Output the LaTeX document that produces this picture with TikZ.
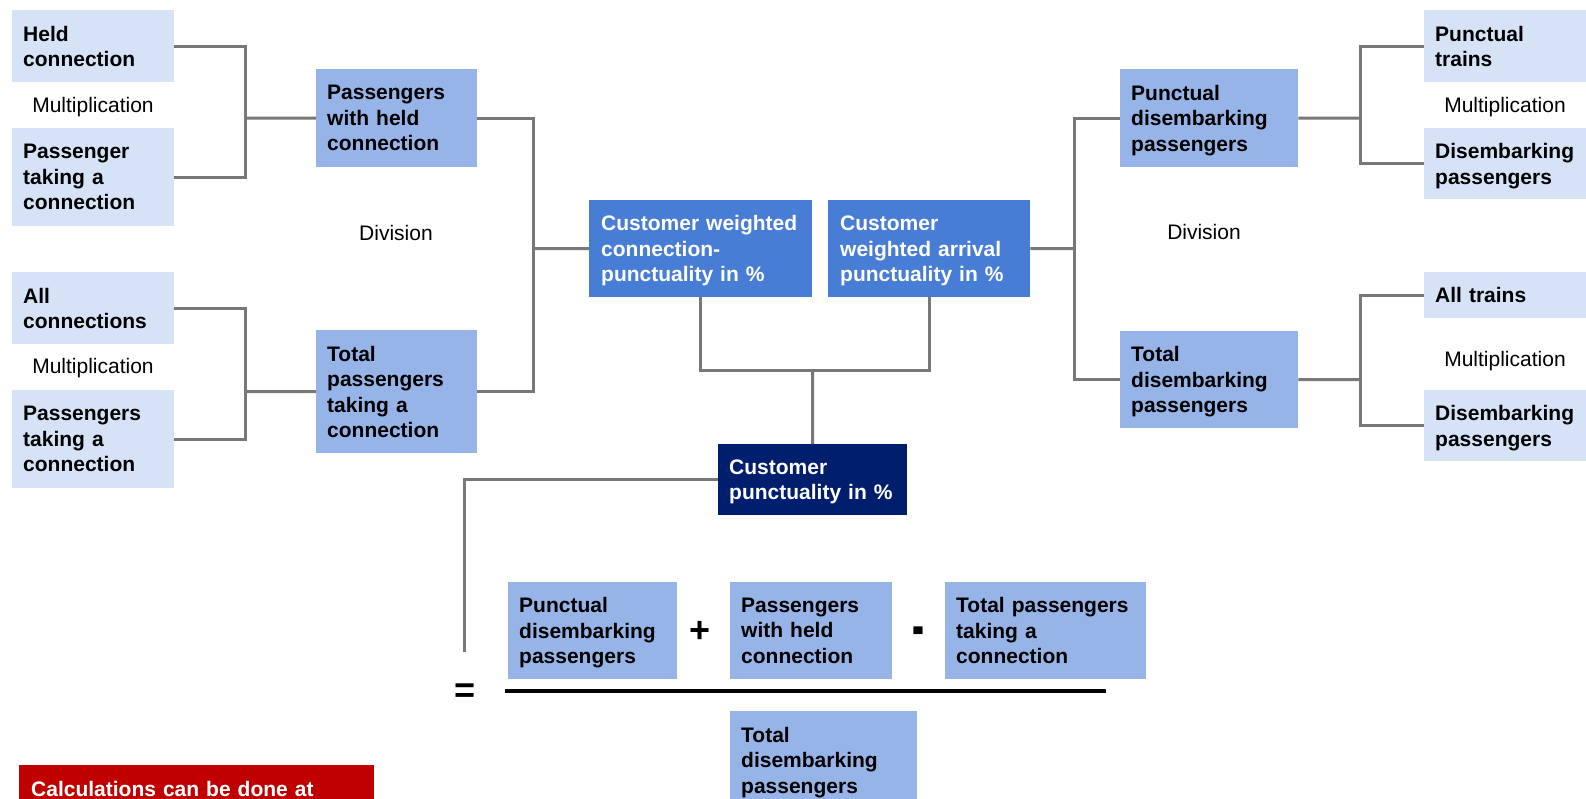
\documentclass[tikz,border=0pt]{standalone}
\usepackage{fontspec}
\setmainfont{Liberation Sans}
\definecolor{lightc}{RGB}{214,227,246}
\definecolor{midc}{RGB}{150,180,232}
\definecolor{strongc}{RGB}{72,125,213}
\definecolor{navyc}{RGB}{0,30,110}
\definecolor{redc}{RGB}{192,0,0}
\definecolor{linec}{RGB}{120,120,120}
\tikzset{
  box/.style={anchor=north west, inner xsep=11pt, inner ysep=0pt, align=left,
    font=\fontsize{21}{25.5}\selectfont\bfseries},
  one/.style={text depth=0pt},
  two/.style={text depth=25.5pt},
  three/.style={text depth=51pt},
  four/.style={text depth=76.5pt},
  lightbox/.style={box, fill=lightc},
  midbox/.style={box, fill=midc},
  strongbox/.style={box, fill=strongc, text=white, inner xsep=12pt},
  navybox/.style={box, fill=navyc, text=white},
  notebox/.style={box, fill=redc, text=white, inner xsep=12pt},
  opname/.style={font=\fontsize{21}{25}\selectfont, inner sep=0pt},
  opsign/.style={font=\fontsize{36}{36}\selectfont\bfseries, inner sep=0pt},
  conn/.style={draw=linec, line width=3pt},
}
\begin{document}
\begin{tikzpicture}[x=1pt,y=-1pt]
\useasboundingbox (0,0) rectangle (1586,798);
\clip (0,0) rectangle (1586,798);
\fill[white] (0,0) rectangle (1586,798);

% left input boxes
\node[lightbox, two, text width=140pt, minimum height=72pt] (held) at (12,10) {Held\\connection};
\node[lightbox, three, text width=140pt, minimum height=98pt] (ptc) at (12,128) {Passenger\\taking a\\connection};
\node[lightbox, two, text width=140pt, minimum height=72pt] (allc) at (12,272) {All\\connections};
\node[lightbox, three, text width=140pt, minimum height=98pt] (ptc2) at (12,390) {Passengers\\taking a\\connection};
\node[opname] (mul1) at (93,107) {Multiplication};
\node[opname] (mul2) at (93,368) {Multiplication};

% left intermediate boxes
\node[midbox, three, text width=139pt, minimum height=98pt] (pwh) at (316,69) {Passengers\\with held\\connection};
\node[midbox, four, text width=139pt, minimum height=123pt] (tpt) at (316,330) {Total\\passengers\\taking a\\connection};
\node[opname] (div1) at (396,233) {Division};

% central boxes
\node[strongbox, three, text width=199pt, minimum height=97pt] (cwc) at (589,200) {Customer weighted\\connection-\\punctuality in \%};
\node[strongbox, three, text width=178pt, minimum height=97pt] (cwa) at (828,200) {Customer\\weighted arrival\\punctuality in \%};
\node[navybox, two, text width=167pt, minimum height=71pt] (cp) at (718,444) {Customer\\punctuality in \%};

% right intermediate boxes
\node[midbox, three, text width=156pt, minimum height=98pt] (pdp) at (1120,69) {Punctual\\disembarking\\passengers};
\node[midbox, three, text width=156pt, minimum height=97pt] (tdp) at (1120,331) {Total\\disembarking\\passengers};
\node[opname] (div2) at (1204,232) {Division};

% right input boxes
\node[lightbox, two, text width=150pt, minimum height=72pt] (pt) at (1424,10) {Punctual\\trains};
\node[lightbox, two, text width=150pt, minimum height=71pt] (dp1) at (1424,128) {Disembarking\\passengers};
\node[lightbox, one, text width=150pt, minimum height=46pt] (at) at (1424,272) {All trains};
\node[lightbox, two, text width=150pt, minimum height=71pt] (dp2) at (1424,390) {Disembarking\\passengers};
\node[opname] (mul3) at (1505,107) {Multiplication};
\node[opname] (mul4) at (1505,361) {Multiplication};

% formula
\node[midbox, three, text width=147pt, minimum height=97pt] (f1) at (508,582) {Punctual\\disembarking\\passengers};
\node[midbox, three, text width=140pt, minimum height=97pt] (f2) at (730,582) {Passengers\\with held\\connection};
\node[midbox, three, text width=179pt, minimum height=97pt] (f3) at (945,582) {Total passengers\\taking a\\connection};
\node[midbox, three, text width=165pt, minimum height=98pt] (f4) at (730,711) {Total\\disembarking\\passengers};
\node[opsign] (plus) at (700,632) {+};
\node[opsign, anchor=base] (minus) at (918,647) {\scalebox{1}[1.8]{-}};
\node[opsign] (eq) at (465,693) {=};
\coordinate (fl1) at (505,691);
\coordinate (fl2) at (1106,691);
\draw[line width=3.2pt, black] (fl1) -- (fl2);

% note
\node[notebox, two, text width=331pt, minimum height=72pt] (note) at (19,765) {Calculations can be done at};

% connectors left
\coordinate (j1) at (245,118);
\coordinate (j2) at (245,391.5);
\coordinate (j3) at (533,248.5);
\draw[conn] (held.east) -| (j1);
\draw[conn] (ptc.east) -| (j1);
\draw[conn] (j1) -- (pwh.west);
\draw[conn] (allc.east) -| (j2);
\draw[conn] (ptc2.east) -| (j2);
\draw[conn] (j2) -- (tpt.west);
\draw[conn] (pwh.east) -| (j3);
\draw[conn] (tpt.east) -| (j3);
\draw[conn] (j3) -- (cwc.west);

% connectors centre
\coordinate (j4) at (812.5,370);
\draw[conn] (cwc.south) |- (j4) -| (cwa.south);
\draw[conn] (j4) -- (cp.north);
\coordinate (e1) at (464,652);
\draw[conn] (cp.west) -| (e1);

% connectors right
\coordinate (j5) at (1074,248.5);
\coordinate (j6) at (1360,118);
\coordinate (j7) at (1360,379.5);
\draw[conn] (cwa.east) -- (j5);
\draw[conn] (pdp.west) -| (j5);
\draw[conn] (tdp.west) -| (j5);
\draw[conn] (pdp.east) -- (j6);
\draw[conn] (pt.west) -| (j6);
\draw[conn] (dp1.west) -| (j6);
\draw[conn] (tdp.east) -- (j7);
\draw[conn] (at.west) -| (j7);
\draw[conn] (dp2.west) -| (j7);
\end{tikzpicture}
\end{document}
